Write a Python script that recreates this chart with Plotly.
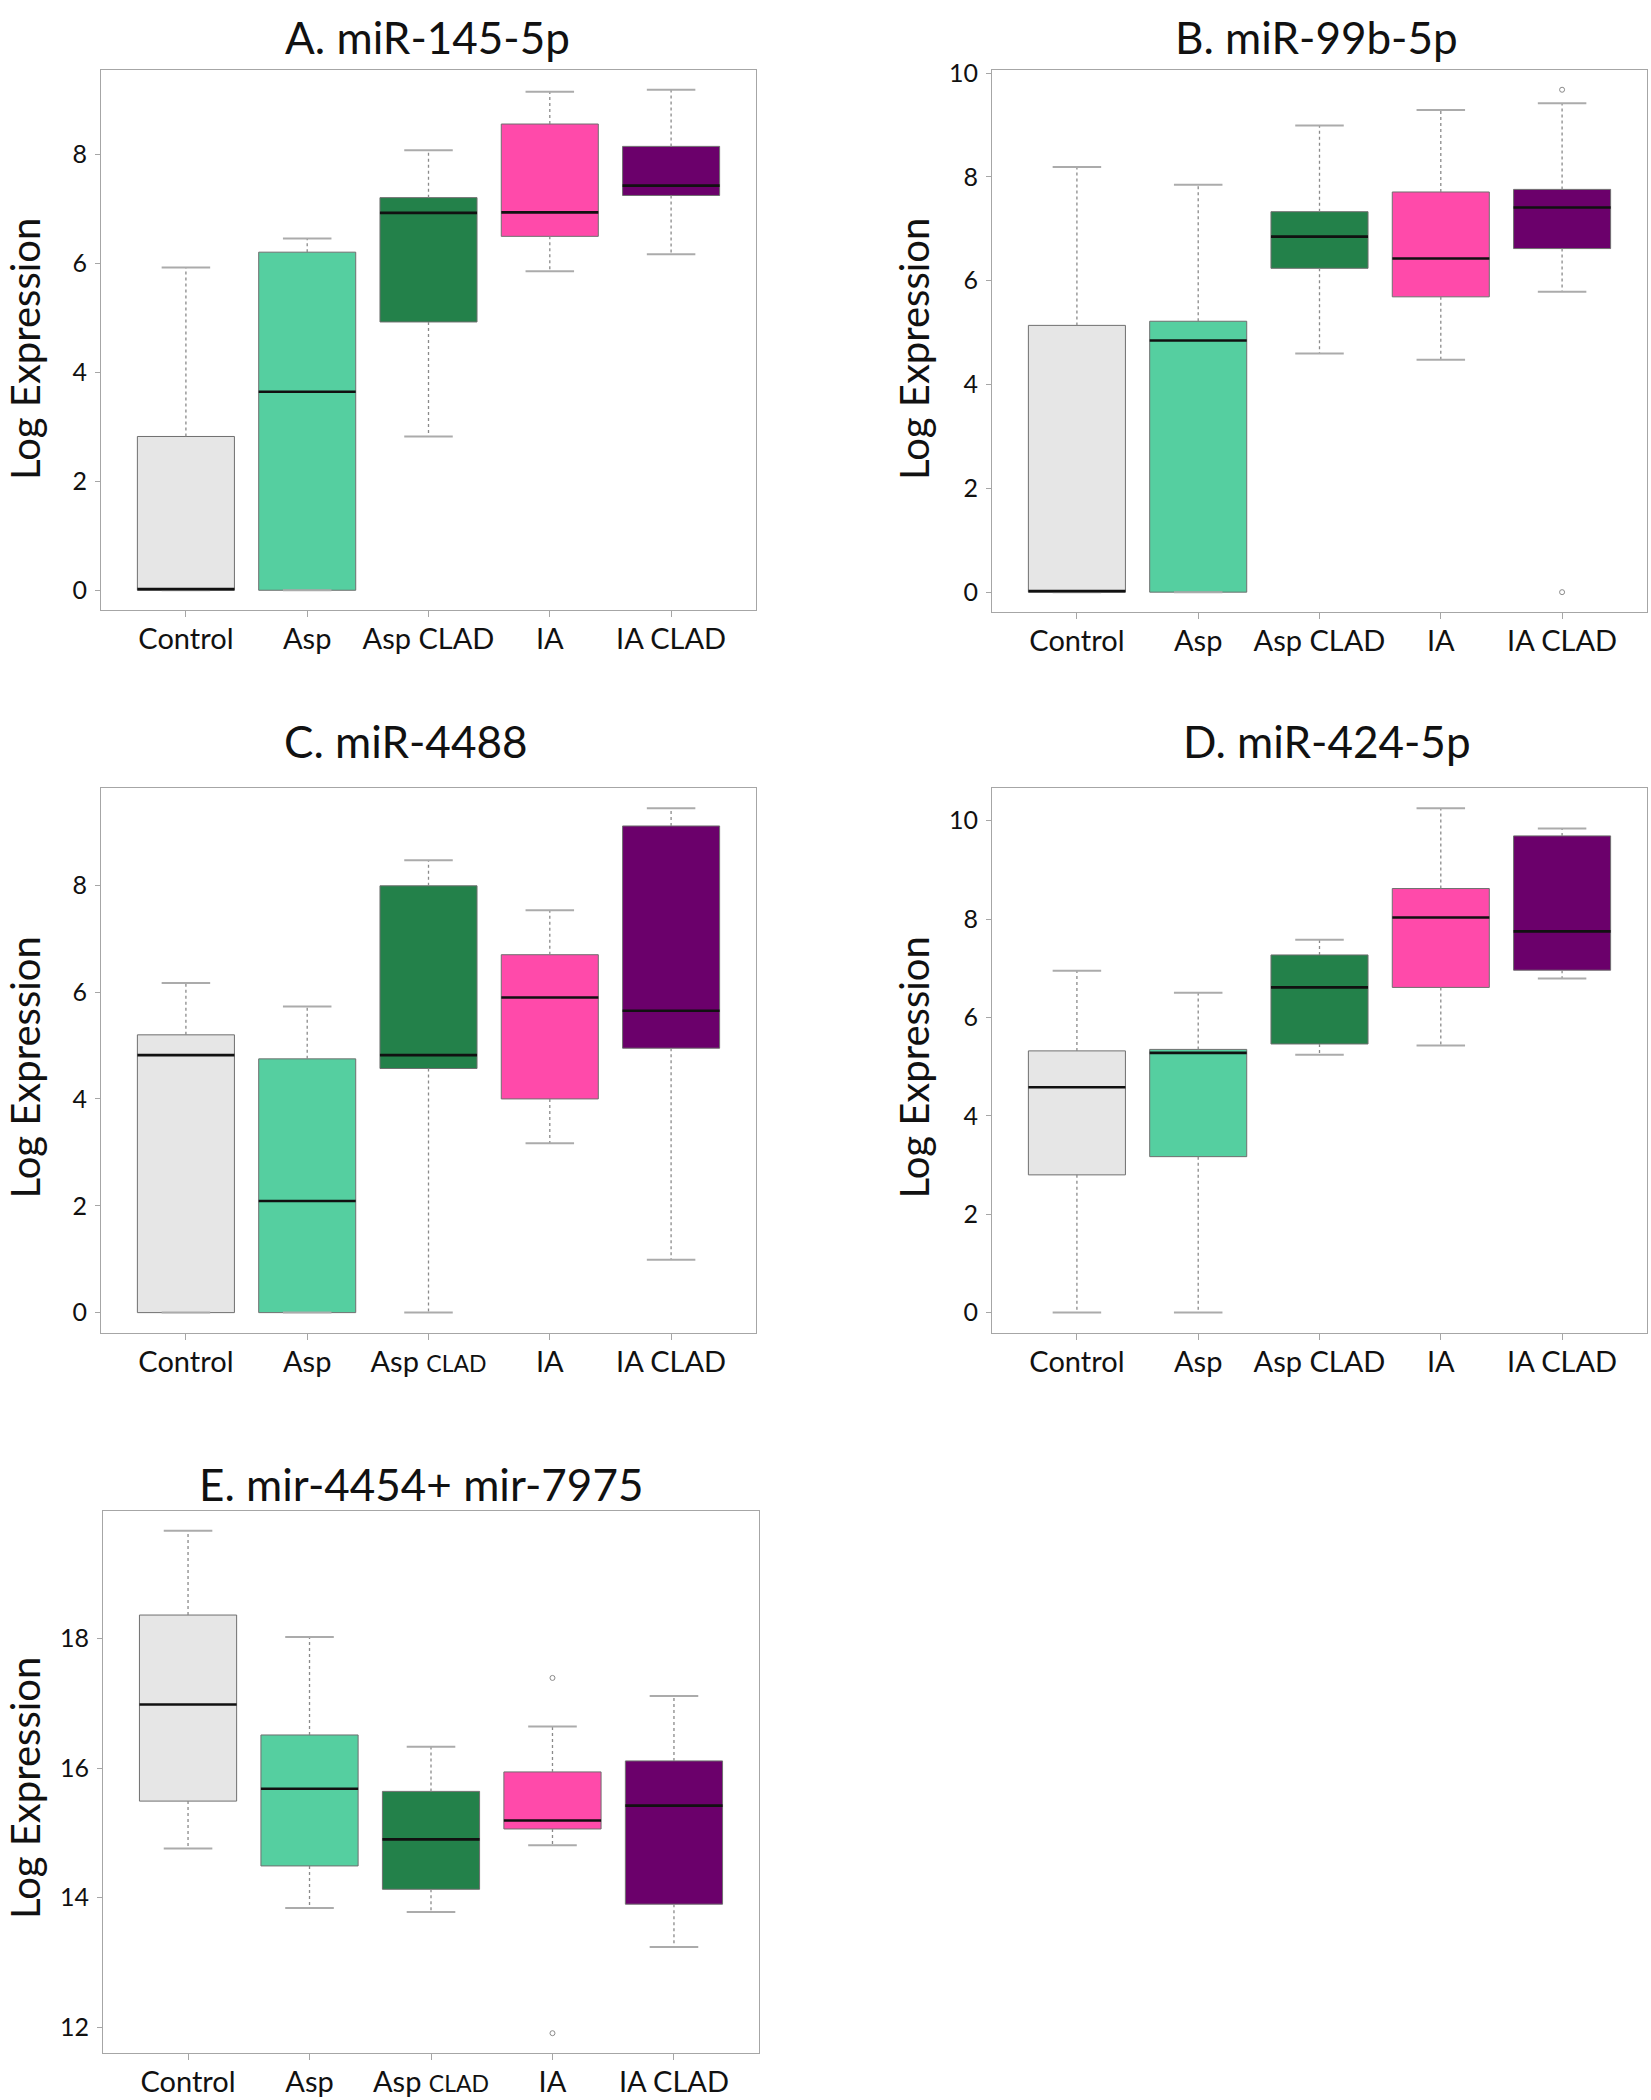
import plotly.graph_objects as go

W, H = 1651, 2100

groups = ["Control", "Asp", "Asp CLAD", "IA", "IA CLAD"]
colors = ["#E6E6E6", "#55CFA0", "#23814A", "#FF4AAA", "#6B006B"]

# ---- Panel A: miR-145-5p
a_lower = [0.0, 0.0, 2.82, 5.85, 6.16]
a_q1 = [0.0, 0.0, 4.92, 6.49, 7.24]
a_median = [0.02, 3.64, 6.92, 6.93, 7.42]
a_q3 = [2.82, 6.20, 7.20, 8.55, 8.14]
a_upper = [5.92, 6.45, 8.07, 9.14, 9.18]
a_out_x = []
a_out_y = []

# ---- Panel B: miR-99b-5p
b_lower = [0.0, 0.0, 4.60, 4.48, 5.79]
b_q1 = [0.0, 0.0, 6.24, 5.69, 6.62]
b_median = [0.02, 4.85, 6.85, 6.43, 7.41]
b_q3 = [5.14, 5.22, 7.33, 7.71, 7.76]
b_upper = [8.19, 7.85, 8.99, 9.29, 9.42]
b_out_x = ["IA CLAD", "IA CLAD"]
b_out_y = [9.68, 0.0]

# ---- Panel C: miR-4488
c_lower = [0.0, 0.0, 0.0, 3.17, 0.99]
c_q1 = [0.0, 0.0, 4.57, 4.00, 4.95]
c_median = [4.82, 2.09, 4.82, 5.90, 5.65]
c_q3 = [5.20, 4.75, 7.99, 6.70, 9.11]
c_upper = [6.17, 5.73, 8.47, 7.53, 9.44]
c_out_x = []
c_out_y = []

# ---- Panel D: miR-424-5p
d_lower = [0.0, 0.0, 5.24, 5.43, 6.79]
d_q1 = [2.80, 3.17, 5.46, 6.61, 6.96]
d_median = [4.58, 5.28, 6.61, 8.03, 7.75]
d_q3 = [5.32, 5.35, 7.27, 8.62, 9.69]
d_upper = [6.95, 6.50, 7.58, 10.25, 9.84]
d_out_x = []
d_out_y = []

# ---- Panel E: mir-4454+ mir-7975
e_lower = [14.76, 13.84, 13.78, 14.81, 13.24]
e_q1 = [15.49, 14.49, 14.13, 15.06, 13.90]
e_median = [16.98, 15.68, 14.90, 15.19, 15.42]
e_q3 = [18.36, 16.51, 15.64, 15.94, 16.11]
e_upper = [19.66, 18.02, 16.33, 16.64, 17.11]
e_out_x = ["IA", "IA"]
e_out_y = [17.39, 11.91]

small = "<span style='font-size:23px'>CLAD</span>"
ticktext_normal = groups
ticktext_small = ["Control", "Asp", "Asp " + small, "IA", "IA CLAD"]

panels = [
    dict(title="A. miR-145-5p", lower=a_lower, q1=a_q1, med=a_median, q3=a_q3, upper=a_upper,
         ox=a_out_x, oy=a_out_y, ticks=ticktext_normal,
         dom=(101, 756, 57, 601), tpos=(427, 24), ypos=(25, 338)),
    dict(title="B. miR-99b-5p", lower=b_lower, q1=b_q1, med=b_median, q3=b_q3, upper=b_upper,
         ox=b_out_x, oy=b_out_y, ticks=ticktext_normal,
         dom=(992, 1647, 57, 603), tpos=(1316, 24), ypos=(914, 338)),
    dict(title="C. miR-4488", lower=c_lower, q1=c_q1, med=c_median, q3=c_q3, upper=c_upper,
         ox=c_out_x, oy=c_out_y, ticks=ticktext_small,
         dom=(101, 756, 780, 1328), tpos=(405, 733), ypos=(25, 1061)),
    dict(title="D. miR-424-5p", lower=d_lower, q1=d_q1, med=d_median, q3=d_q3, upper=d_upper,
         ox=d_out_x, oy=d_out_y, ticks=ticktext_normal,
         dom=(992, 1647, 780, 1328), tpos=(1327, 733), ypos=(914, 1061)),
    dict(title="E. mir-4454+ mir-7975", lower=e_lower, q1=e_q1, med=e_median, q3=e_q3, upper=e_upper,
         ox=e_out_x, oy=e_out_y, ticks=ticktext_small,
         dom=(103, 759, 1507, 2053), tpos=(421, 1480), ypos=(25, 1786)),
]

FONT = "Lato, 'Open Sans', sans-serif"
BOX_W = 0.8
CAP_W = 0.4
fig = go.Figure()
layout = {}
annotations = []

for k, p in enumerate(panels):
    sfx = "" if k == 0 else str(k + 1)
    xa, ya = "x" + sfx, "y" + sfx
    pos = list(range(1, len(groups) + 1))

    # whiskers (dotted)
    wx, wy = [], []
    for i, g in enumerate(groups):
        wx += [pos[i], pos[i], None, pos[i], pos[i], None]
        wy += [p["q3"][i], p["upper"][i], None, p["q1"][i], p["lower"][i], None]
    fig.add_trace(go.Scatter(x=wx, y=wy, mode="lines", xaxis=xa, yaxis=ya,
                             line=dict(color="#8a8a8a", width=1.3, dash="dot"),
                             showlegend=False, hoverinfo="skip"))
    # caps
    cx, cy = [], []
    for i, g in enumerate(groups):
        cx += [pos[i] - CAP_W / 2, pos[i] + CAP_W / 2, None, pos[i] - CAP_W / 2, pos[i] + CAP_W / 2, None]
        cy += [p["upper"][i], p["upper"][i], None, p["lower"][i], p["lower"][i], None]
    fig.add_trace(go.Scatter(x=cx, y=cy, mode="lines", xaxis=xa, yaxis=ya,
                             line=dict(color="#ababab", width=2),
                             showlegend=False, hoverinfo="skip"))
    # boxes
    fig.add_trace(go.Bar(x=pos, base=p["q1"],
                         y=[q3 - q1 for q1, q3 in zip(p["q1"], p["q3"])],
                         width=BOX_W, xaxis=xa, yaxis=ya,
                         marker=dict(color=colors, line=dict(color="#6f6f6f", width=1)),
                         showlegend=False, hoverinfo="skip"))
    # medians
    mx, my = [], []
    for i, g in enumerate(groups):
        mx += [pos[i] - BOX_W / 2, pos[i] + BOX_W / 2, None]
        my += [p["med"][i], p["med"][i], None]
    fig.add_trace(go.Scatter(x=mx, y=my, mode="lines", xaxis=xa, yaxis=ya,
                             line=dict(color="#111111", width=2.6),
                             showlegend=False, hoverinfo="skip"))
    # outliers
    if p["ox"]:
        fig.add_trace(go.Scatter(x=[groups.index(g) + 1 for g in p["ox"]], y=p["oy"],
                                 mode="markers", xaxis=xa, yaxis=ya,
                                 marker=dict(symbol="circle-open", size=5, color="#8a8a8a",
                                             line=dict(width=1)),
                                 showlegend=False, hoverinfo="skip"))

    allv = p["lower"] + p["upper"] + p["oy"]
    lo, hi = min(allv), max(allv)
    pad = 0.04 * (hi - lo)
    x0, x1, y0, y1 = p["dom"]
    layout["xaxis" + sfx] = dict(
        domain=[x0 / W, x1 / W], anchor=ya, range=[0.3, len(groups) + 0.7],
        tickmode="array", tickvals=pos, ticktext=p["ticks"],
        showline=True, mirror=True, linecolor="#a6a6a6", linewidth=1.2,
        ticks="outside", ticklen=6, tickcolor="#a6a6a6", tickwidth=1,
        ticklabelstandoff=-3,
        showgrid=False, zeroline=False,
        tickfont=dict(family=FONT, size=29, color="#111111"))
    layout["yaxis" + sfx] = dict(
        domain=[1 - y1 / H, 1 - y0 / H], anchor=xa, range=[lo - pad, hi + pad],
        dtick=2, tick0=0,
        showline=True, mirror=True, linecolor="#a6a6a6", linewidth=1.2,
        ticks="outside", ticklen=5, tickcolor="#a6a6a6", tickwidth=1,
        ticklabelstandoff=3,
        showgrid=False, zeroline=False,
        tickfont=dict(family=FONT, size=25, color="#111111"))
    annotations.append(dict(text=p["title"], xref="paper", yref="paper",
                            x=p["tpos"][0] / W, y=1 - p["tpos"][1] / H,
                            xanchor="center", yanchor="middle", showarrow=False,
                            font=dict(family=FONT, size=44, color="#111111")))
    annotations.append(dict(text="Log Expression", xref="paper", yref="paper",
                            x=p["ypos"][0] / W, y=1 - p["ypos"][1] / H, textangle=-90,
                            xanchor="center", yanchor="middle", showarrow=False,
                            font=dict(family=FONT, size=40, color="#111111")))

fig.update_layout(width=W, height=H, margin=dict(l=0, r=0, t=0, b=0),
                  paper_bgcolor="white", plot_bgcolor="white",
                  barmode="overlay", showlegend=False, annotations=annotations, **layout)

fig.write_html("out.html", config={"displayModeBar": False},
               post_script="document.body.style.margin='0px';")
